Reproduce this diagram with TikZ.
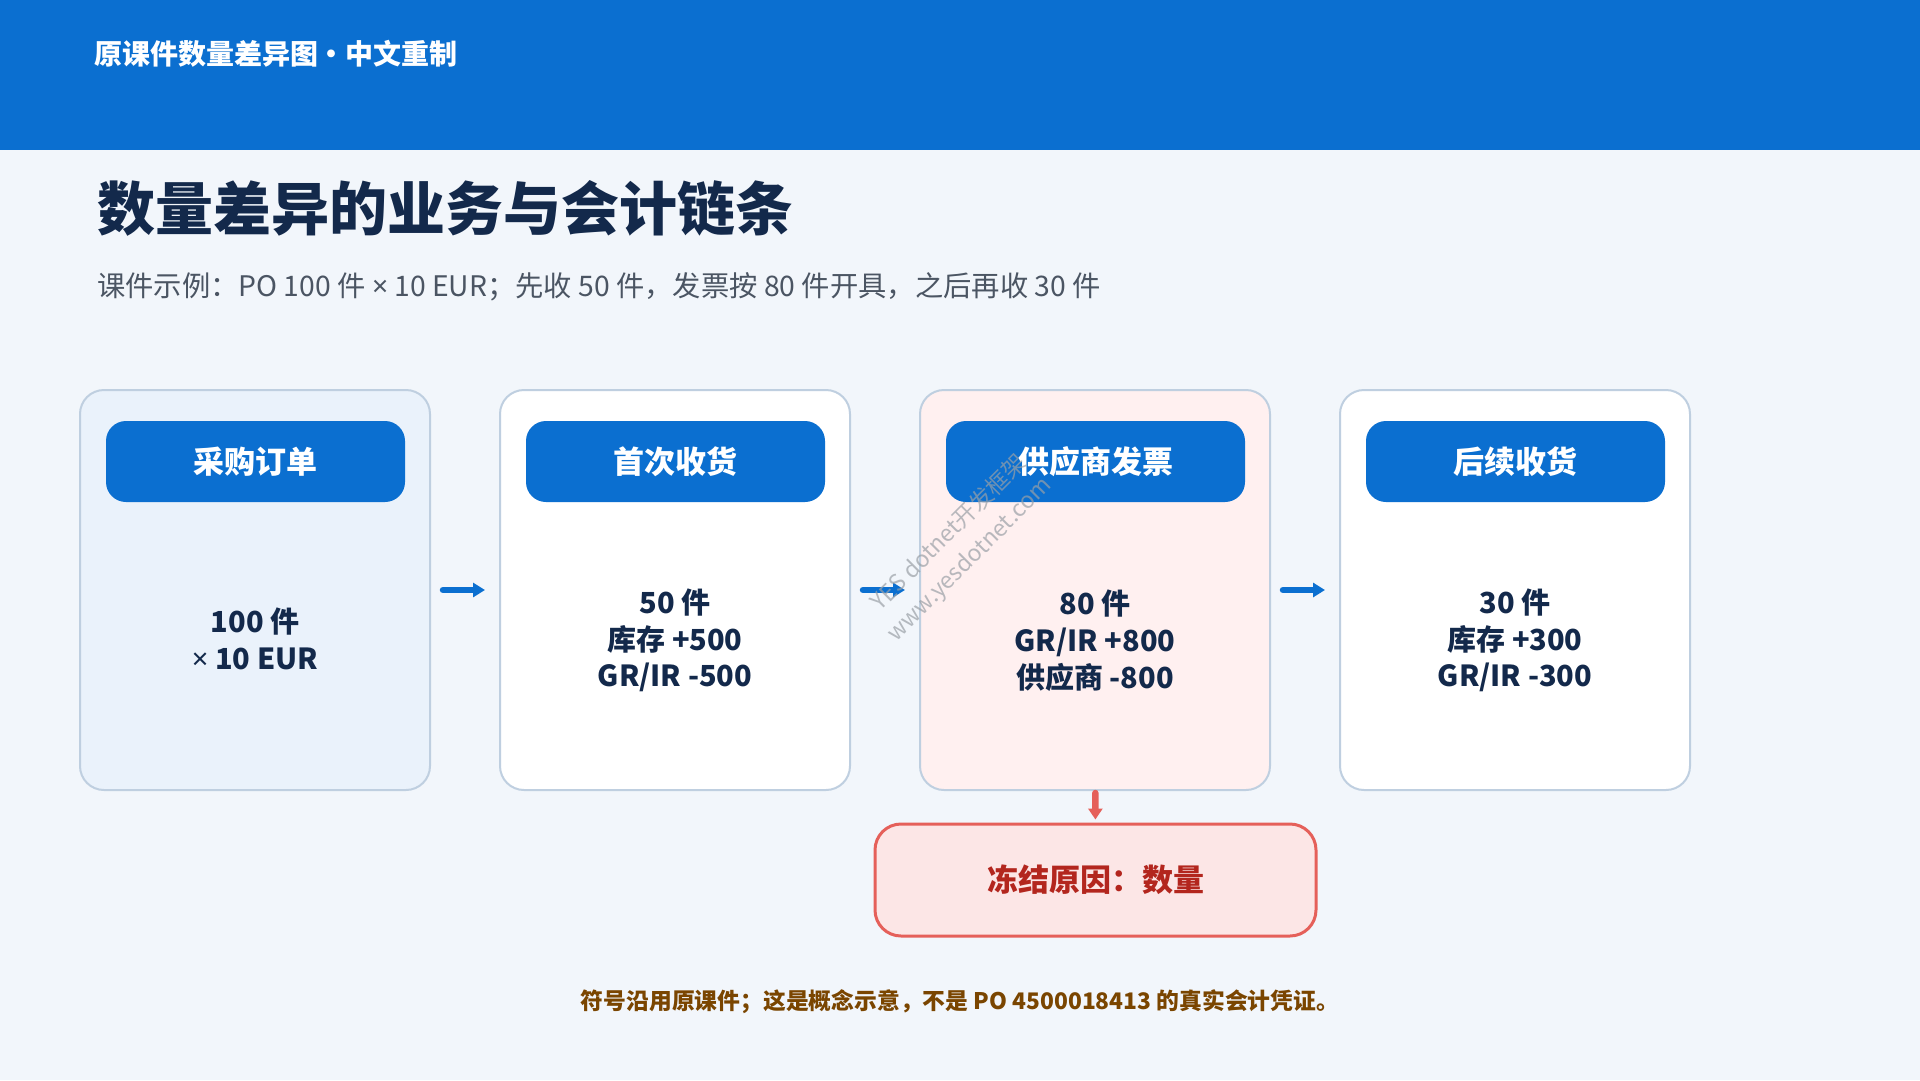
\documentclass[tikz,border=0pt]{standalone}
\usepackage{fontspec}
\setmainfont{Noto Sans CJK SC}
\newfontfamily\latinfont{Noto Sans}
\usetikzlibrary{arrows.meta}
\definecolor{bg}{HTML}{F2F6FB}
\definecolor{brand}{HTML}{0B6FD0}
\definecolor{navy}{HTML}{13294B}
\definecolor{subgray}{HTML}{4B5563}
\definecolor{cardline}{HTML}{BFCFE0}
\definecolor{cardblue}{HTML}{EAF2FB}
\definecolor{cardpink}{HTML}{FFF0F0}
\definecolor{redline}{HTML}{E5605A}
\definecolor{redfill}{HTML}{FCE6E6}
\definecolor{redtext}{HTML}{B3261E}
\definecolor{footbrown}{HTML}{7A4500}
\definecolor{wmgray}{HTML}{9AA0A6}
\newcommand{\tms}{{\latinfont ×}}
\tikzset{
  card/.style={draw=cardline, line width=2pt, rounded corners=24pt,
    minimum width=350pt, minimum height=400pt, inner sep=0pt},
  pill/.style={fill=brand, rounded corners=20pt, minimum width=299pt,
    minimum height=81pt, inner sep=0pt, text=white,
    font=\fontsize{31}{36}\selectfont\bfseries},
  body/.style={align=center, text=navy, inner sep=0pt,
    font=\fontsize{29}{36.7}\selectfont\bfseries},
  flow/.style={draw=brand, line width=6.5pt, line cap=round,
    -{Triangle[length=12pt,width=14pt]}, shorten <=12pt, shorten >=14pt},
  redflow/.style={draw=redline, line width=6.5pt, line cap=round,
    -{Triangle[length=11pt,width=14pt]}, shorten <=2pt, shorten >=3pt},
  freeze/.style={draw=redline, fill=redfill, line width=3pt, rounded corners=26pt,
    minimum width=441pt, minimum height=112pt, inner sep=0pt, text=redtext,
    font=\fontsize{31}{36}\selectfont\bfseries},
  wm/.style={text=wmgray, opacity=0.7, rotate=45, inner sep=0pt,
    font=\fontsize{23}{27}\selectfont}
}
\begin{document}
\begin{tikzpicture}[x=1pt,y=-1pt]
\useasboundingbox (0,0) rectangle (1920,1080);
\fill[bg] (0,0) rectangle (1920,1080);
% header band
\fill[brand] (0,0) rectangle (1920,150);
\node[anchor=west, inner sep=0pt, text=white,
  font=\fontsize{28}{32}\selectfont\bfseries] (hdr) at (94,54) {原课件数量差异图\kern-0.24em{} • {}\kern-0.24em中文重制};
% title & subtitle
\node[anchor=west, inner sep=0pt, text=navy,
  font=\fontsize{58}{66}\selectfont\bfseries] (title) at (97,208) {数量差异的业务与会计链条};
\node[anchor=west, inner sep=0pt, text=subgray,
  font=\fontsize{28.3}{32}\selectfont] (sub) at (97,287) {课件示例：PO 100 件 \tms{} 10 EUR；先收 50 件，发票按 80 件开具，之后再收 30 件};
% cards
\node[card, fill=cardblue] (c1) at (255,590) {};
\node[card, fill=white]    (c2) at (675,590) {};
\node[card, fill=cardpink] (c3) at (1095,590) {};
\node[card, fill=white]    (c4) at (1515,590) {};
% pills
\node[pill] (p1) at (255.5,461.5) {采购订单};
\node[pill] (p2) at (675.5,461.5) {首次收货};
\node[pill] (p3) at (1095.5,461.5) {供应商发票};
\node[pill] (p4) at (1515.5,461.5) {后续收货};
% body texts
\node[body] (t1) at (255,639) {100 件\\\tms{} 10 EUR};
\node[body] (t2) at (675,640.5) {50 件\\库存 +500\\GR/IR -500};
\node[body] (t3) at (1095,640.5) {80 件\\GR/IR +800\\供应商 -800};
\node[body] (t4) at (1515,640.5) {30 件\\库存 +300\\GR/IR -300};
% connectors
\draw[flow] (c1) -- (c2);
\draw[flow] (c2) -- (c3);
\draw[flow] (c3) -- (c4);
% freeze box
\node[freeze] (fz) at (1095.5,880) {冻结原因：数量};
\draw[redflow] (c3) -- (fz);
% footer
\node[inner sep=0pt, text=footbrown, font=\fontsize{22.8}{26}\selectfont\bfseries]
  (foot) at (960,1002) {符号沿用原课件；这是概念示意，不是 PO 4500018413 的真实会计凭证。};
% watermark
\node[wm] (wm1) at (948,532) {YES dotnet开发框架};
\node[wm] (wm2) at (970,560) {www.yesdotnet.com};
\end{tikzpicture}
\end{document}
